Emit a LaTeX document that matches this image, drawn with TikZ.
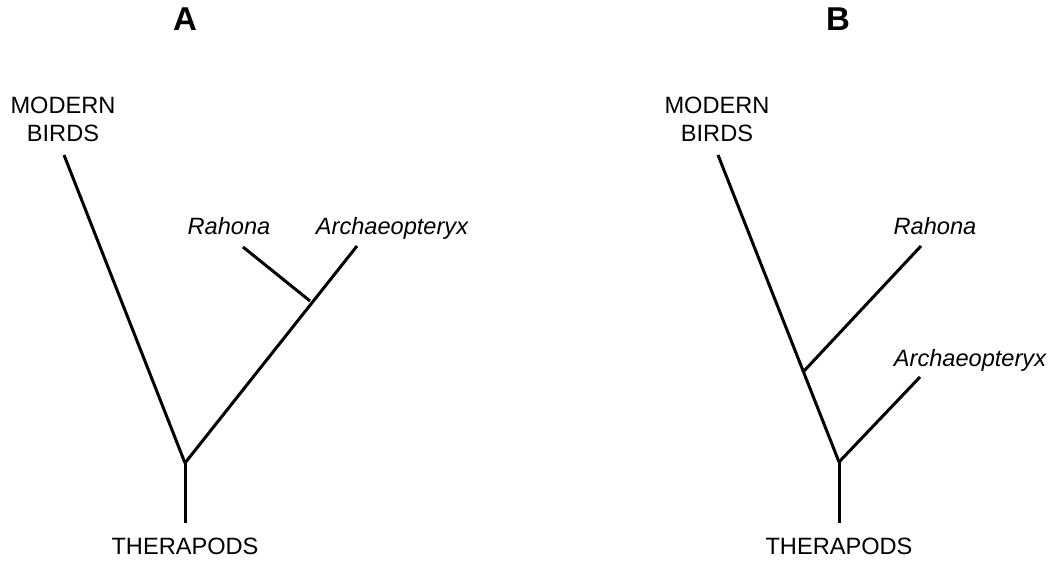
\documentclass[tikz,border=0pt]{standalone}
\usepackage{fontspec}
\setmainfont{Liberation Sans}
\usetikzlibrary{positioning}

\begin{document}
\begin{tikzpicture}[x=0.5pt,y=-0.5pt,
		branch/.style={line width=1.5pt},
		taxon/.style={anchor=base,inner sep=0pt,font=\fontsize{11.8}{14}\selectfont},
		panel_label/.style={anchor=base,inner sep=0pt,font=\fontsize{16.5}{18}\selectfont\bfseries}]
		\useasboundingbox (0,0) rectangle (1054,565);

		% panel A
		\node[panel_label] (labA) at (185,31) {A};
		\node[taxon,align=center] (birdsA) at (63,142) {MODERN\\BIRDS};
		\node[taxon] (rahA) at (229,235) {\itshape Rahona};
		\node[taxon] (archA) at (392,235) {\itshape Archaeopteryx};
		\node[taxon] (therA) at (185,555) {THERAPODS};

		\coordinate (tipbirdsA) at (64,155);
		\coordinate (tiprahA) at (243,247);
		\coordinate (tiparchA) at (357,246);
		\coordinate (joinA) at (310,301);
		\coordinate (rootA) at (185,463);
		\coordinate (baseA) at (185,523);

		\draw[branch] (tipbirdsA) -- (rootA);
		\draw[branch] (rootA) -- (tiparchA);
		\draw[branch] (tiprahA) -- (joinA);
		\draw[branch] (rootA) -- (baseA);

		% panel B
		\node[panel_label] (labB) at (838,31) {B};
		\node[taxon,align=center] (birdsB) at (717,142) {MODERN\\BIRDS};
		\node[taxon] (rahB) at (935,235) {\itshape Rahona};
		\node[taxon] (archB) at (970,367) {\itshape Archaeopteryx};
		\node[taxon] (therB) at (839,555) {THERAPODS};

		\coordinate (tipbirdsB) at (718,155);
		\coordinate (tiprahB) at (921,246);
		\coordinate (tiparchB) at (920,377);
		\coordinate (joinB) at (804,371);
		\coordinate (rootB) at (839,462);
		\coordinate (baseB) at (839,523);

		\draw[branch] (tipbirdsB) -- (rootB);
		\draw[branch] (joinB) -- (tiprahB);
		\draw[branch] (rootB) -- (tiparchB);
		\draw[branch] (rootB) -- (baseB);
		\end{tikzpicture}
\end{document}
